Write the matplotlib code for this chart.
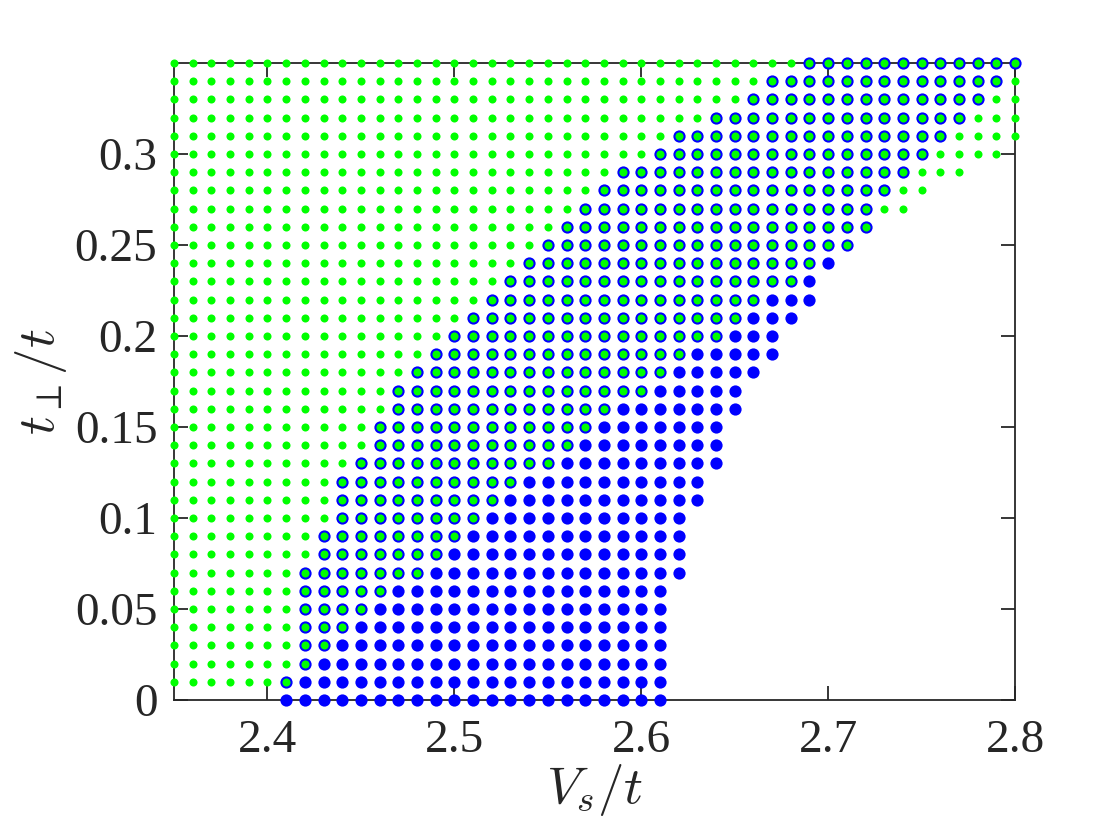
import numpy as np
import matplotlib
matplotlib.use("Agg")
import matplotlib.pyplot as plt

plt.rcParams["font.family"] = ["Liberation Serif", "DejaVu Serif"]
plt.rcParams["mathtext.fontset"] = "cm"

# parameter grid
vs_grid = np.round(np.arange(2.35, 2.8001, 0.01), 2)
t_perp = np.round(np.arange(0.0, 0.3501, 0.01), 2)

# per row (t_perp): extent of blue phase and green phase along V_s
blue_min = [2.41, 2.41, 2.42, 2.42, 2.42, 2.42, 2.42, 2.42, 2.43, 2.43,
            2.44, 2.44, 2.44, 2.45, 2.46, 2.46, 2.47, 2.47, 2.48, 2.49,
            2.50, 2.51, 2.52, 2.53, 2.54, 2.55, 2.56, 2.57, 2.58, 2.59,
            2.61, 2.62, 2.64, 2.66, 2.67, 2.69]
blue_max = [2.61, 2.61, 2.61, 2.61, 2.61, 2.61, 2.61, 2.62, 2.62, 2.62,
            2.62, 2.63, 2.63, 2.64, 2.64, 2.64, 2.65, 2.65, 2.66, 2.67,
            2.67, 2.68, 2.69, 2.69, 2.70, 2.71, 2.72, 2.72, 2.73, 2.74,
            2.75, 2.76, 2.77, 2.78, 2.79, 2.80]
# None -> no green points in that row
green_max = [None, 2.41, 2.42, 2.43, 2.44, 2.45, 2.46, 2.48, 2.49, 2.50,
             2.51, 2.52, 2.53, 2.55, 2.56, 2.57, 2.58, 2.60, 2.61, 2.62,
             2.64, 2.65, 2.66, 2.68, 2.69, 2.71, 2.72, 2.74, 2.75, 2.77,
             2.79, 2.80, 2.80, 2.80, 2.80, 2.80]

bx, by, gx, gy = [], [], [], []
for i, y in enumerate(t_perp):
    sel = (vs_grid >= blue_min[i] - 1e-9) & (vs_grid <= blue_max[i] + 1e-9)
    bx.extend(vs_grid[sel])
    by.extend([y] * int(sel.sum()))
    if green_max[i] is not None:
        sel = vs_grid <= green_max[i] + 1e-9
        gx.extend(vs_grid[sel])
        gy.extend([y] * int(sel.sum()))

fig = plt.figure(figsize=(11.2, 8.4), dpi=100)
ax = fig.add_axes([0.1554, 0.1667, 0.7509, 0.7583])

ax.plot(bx, by, "o", color="#0000ff", markersize=8.8, markeredgewidth=0,
        clip_on=False, zorder=3)
ax.plot(gx, gy, "o", color="#00ff00", markersize=5.8, markeredgewidth=0,
        clip_on=False, zorder=4)

ax.set_xlim(2.35, 2.8)
ax.set_ylim(0, 0.35)
ax.set_xticks([2.4, 2.5, 2.6, 2.7, 2.8])
ax.set_xticklabels(["2.4", "2.5", "2.6", "2.7", "2.8"])
ax.set_yticks([0, 0.05, 0.1, 0.15, 0.2, 0.25, 0.3])
ax.set_yticklabels(["0", "0.05", "0.1", "0.15", "0.2", "0.25", "0.3"])

axis_col = "#262626"
for s in ax.spines.values():
    s.set_color(axis_col)
    s.set_linewidth(1.3)
ax.tick_params(direction="in", length=10, width=1.3, colors=axis_col,
               labelsize=34, top=True, right=True)
ax.tick_params(axis="x", pad=14)
ax.tick_params(axis="y", pad=12)

ax.set_xlabel(r"$V_s/t$", fontsize=38, labelpad=0, color=axis_col)
ax.set_ylabel(r"$t_\perp/t$", fontsize=38, labelpad=4, color=axis_col)

fig.savefig("out.png", dpi=100)
